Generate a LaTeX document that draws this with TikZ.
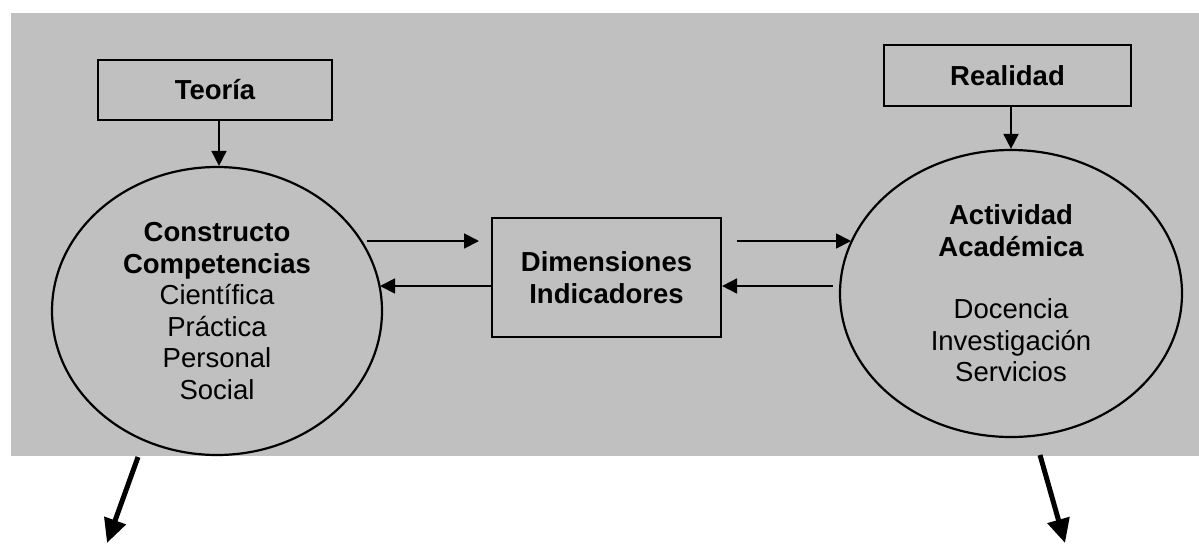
\documentclass[tikz,border=0pt]{standalone}
\usepackage{fontspec}
\setmainfont{Liberation Sans}
\usetikzlibrary{shapes.geometric,arrows.meta}
\definecolor{bggray}{RGB}{192,192,192}
\begin{document}
\begin{tikzpicture}[x=1pt,y=-1pt,
  every node/.style={font=\fontsize{27.5}{31.5}\selectfont},
  boxnode/.style={draw=black,line width=2.2pt,inner sep=0pt,align=center},
  ellnode/.style={draw=black,line width=2.2pt,ellipse,inner sep=0pt,align=center},
  thinarr/.style={line width=1.8pt,-{Triangle[length=15pt,width=15pt]}},
  thickarr/.style={line width=5pt,-{Triangle[length=24pt,width=22pt]}}]
\useasboundingbox (0,0) rectangle (1199,544);
\fill[bggray] (11,13) rectangle (1199,456);
% boxes
\node[boxnode,minimum width=234pt,minimum height=60pt] (teoria) at (215,90) {\bfseries Teoría};
\node[boxnode,minimum width=247pt,minimum height=61pt] (realidad) at (1007.5,75.5) {\bfseries Realidad};
\node[boxnode,minimum width=229pt,minimum height=119pt] (dim) at (606.5,277.5) {\bfseries Dimensiones\\\bfseries Indicadores};
% ellipses
\node[ellnode,minimum width=330pt,minimum height=288pt] (lell) at (217,311)
  {\bfseries Constructo\\\bfseries Competencias\\Científica\\Práctica\\Personal\\Social};
\node[ellnode,minimum width=342pt,minimum height=287pt] (rell) at (1011,293.5)
  {\bfseries Actividad\\\bfseries Académica\\[31pt]Docencia\\Investigación\\Servicios};
% vertical arrows
\draw[thinarr] (teoria.south -| 219,0) -- (lell.north -| 219,0);
\draw[thinarr] (rell.north |- realidad.south) -- (rell.north);
% horizontal arrows
\coordinate (l1) at (367,241);
\coordinate (l2) at (380,286);
\coordinate (r1) at (737,241);
\coordinate (r1e) at (851,241);
\coordinate (r2) at (833,286);
\draw[thinarr] (l1) -- (l1 -| 479,0);
\draw[thinarr] (dim.west |- l2) -- (l2);
\draw[thinarr] (r1) -- (r1e);
\draw[thinarr] (r2) -- (dim.east |- r2);
% thick arrows
\coordinate (ts1) at (138,457);
\coordinate (te1) at (107,543);
\coordinate (ts2) at (1040,455);
\coordinate (te2) at (1065,543);
\draw[thickarr] (ts1) -- (te1);
\draw[thickarr] (ts2) -- (te2);
\end{tikzpicture}
\end{document}
